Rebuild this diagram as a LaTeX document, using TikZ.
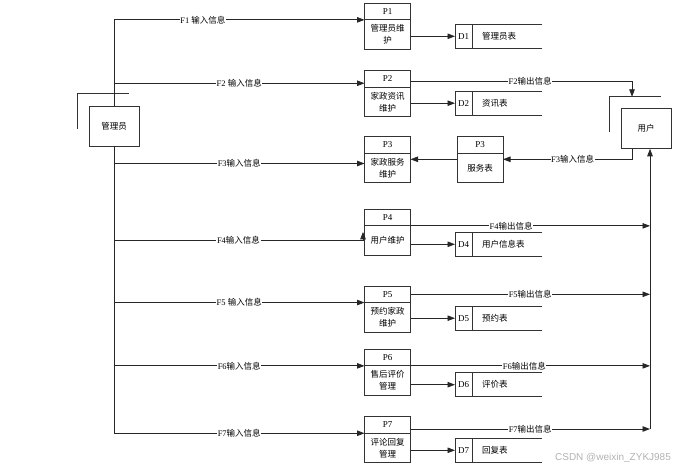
\documentclass[tikz,border=0pt]{standalone}
\usepackage{fontspec}
\setmainfont{Liberation Serif}
\newfontfamily\cjkfont{Noto Sans CJK SC}
\newfontfamily\wmfont{Liberation Sans}
\newcommand{\zh}[1]{{\cjkfont #1}}
\usetikzlibrary{arrows.meta, positioning}

\begin{document}
\begin{tikzpicture}[x=1pt,y=-1pt,
  line/.style={draw=black!85,line width=0.8pt},
  arr/.style={line,-{Triangle[length=7.5pt,width=5.5pt]}},
  lab/.style={fill=white,inner sep=0.6pt,font=\fontsize{8.5}{10}\selectfont},
  ent/.style={rectangle,draw=black!80,line width=0.95pt,minimum width=50,minimum height=40,font=\fontsize{8.5}{10}\selectfont},
  ptop/.style={rectangle,draw=black!80,line width=0.95pt,minimum width=46,minimum height=16.5,inner sep=0,outer sep=0,font=\fontsize{9}{10}\selectfont},
  pbot/.style={rectangle,draw=black!80,line width=0.95pt,minimum width=46,minimum height=29.5,inner sep=0,outer sep=0,align=center,font=\fontsize{8.5}{12}\selectfont,below=0pt of #1},
  dst/.style={rectangle,draw=black!80,line width=0.95pt,minimum width=17,minimum height=24,inner sep=0,outer sep=0,font=\fontsize{9}{10}\selectfont},
  dname/.style={right=10pt of #1,inner sep=0,font=\fontsize{8.5}{10}\selectfont},
  dline/.style={draw=black!80,line width=0.95pt}
]
  \useasboundingbox (0,0) rectangle (692,473);

  % external entities
  \node[ent] (mgr) at (114,126) {\zh{管理员}};
  \node[ent] (usr) at (646,128.3) {\zh{用户}};
  \draw[dline] ([shift={(-11,3)}]mgr.west) |- ([shift={(-10,-12)}]mgr.north east);
  \draw[dline] ([shift={(-11,3.4)}]usr.west) |- ([shift={(-10,-11)}]usr.north east);

  % processes
  \node[ptop] (p1h) at (387.5,11.6) {P1};
  \node[pbot=p1h] (p1b) {\zh{管理员维}\\\zh{护}};
  \node[ptop] (p2h) at (387.5,79) {P2};
  \node[pbot=p2h] (p2b) {\zh{家政资讯}\\\zh{维护}};
  \node[ptop] (p3h) at (387.5,145) {P3};
  \node[pbot=p3h] (p3b) {\zh{家政服务}\\\zh{维护}};
  \node[ptop] (svch) at (480,145) {P3};
  \node[pbot=svch] (svcb) {\zh{服务表}};
  \node[ptop] (p4h) at (387.5,217.6) {P4};
  \node[pbot=p4h] (p4b) {\zh{用户维护}};
  \node[ptop] (p5h) at (387.5,294.3) {P5};
  \node[pbot=p5h] (p5b) {\zh{预约家政}\\\zh{维护}};
  \node[ptop] (p6h) at (387.5,357.6) {P6};
  \node[pbot=p6h] (p6b) {\zh{售后评价}\\\zh{管理}};
  \node[ptop] (p7h) at (387.5,425) {P7};
  \node[pbot=p7h] (p7b) {\zh{评论回复}\\\zh{管理}};

  % data stores
  \node[dst] (d1) at (463.5,36.3) {D1};
  \node[dname=d1] (d1n) {\zh{管理员表}};
  \node[dst] (d2) at (463.5,103.2) {D2};
  \node[dname=d2] (d2n) {\zh{资讯表}};
  \node[dst] (d4) at (463.5,244.3) {D4};
  \node[dname=d4] (d4n) {\zh{用户信息表}};
  \node[dst] (d5) at (463.5,318.2) {D5};
  \node[dname=d5] (d5n) {\zh{预约表}};
  \node[dst] (d6) at (463.5,384.7) {D6};
  \node[dname=d6] (d6n) {\zh{评价表}};
  \node[dst] (d7) at (463.5,450.3) {D7};
  \node[dname=d7] (d7n) {\zh{回复表}};
  \foreach \d in {d1,d2,d4,d5,d6,d7}
    \draw[dline] (\d.north east) -- ++(70,0) (\d.south east) -- ++(70,0);

  % connection points
  \coordinate (p2in) at ([yshift=4pt]p2h.south west);
  \coordinate (p3in) at ([yshift=4.5pt]p3b.west);
  \coordinate (p4in) at ([shift={(-1.5,6)}]p4b.north west);
  \coordinate (p3r) at ([yshift=8.7pt]p3b.east);
  \coordinate (svcl) at ([yshift=8.7pt]svcb.west);
  \coordinate (svcr) at ([yshift=8.7pt]svcb.east);
  \coordinate (p2o) at ([yshift=-2pt]p2h.east);
  \coordinate (p7o) at ([yshift=-4pt]p7h.east);
  \coordinate (usrin) at ([shift={(-14,-11)}]usr.north);
  \coordinate (usrout) at ([xshift=-14pt]usr.south);
  \coordinate (bus) at ([xshift=4pt]usr.south);

  % manager inputs
  \draw[line] (mgr.north) -- (mgr.north |- p1h.south west);
  \draw[line] (mgr.south) -- (mgr.south |- p7h.south west);
  \draw[arr] (mgr.north |- p1h.south west) -- node[lab,pos=0.355]{F1 \zh{输入信息}} (p1h.south west);
  \draw[arr] (mgr.north |- p2in) -- node[lab]{F2 \zh{输入信息}} (p2in);
  \draw[arr] (mgr.south |- p3in) -- node[lab]{F3\zh{输入信息}} (p3in);
  \draw[arr] (mgr.south |- p4b.west) -| node[lab,pos=0.25]{F4\zh{输入信息}} (p4in);
  \draw[arr] (mgr.south |- p5h.south west) -- node[lab]{F5 \zh{输入信息}} (p5h.south west);
  \draw[arr] (mgr.south |- p6h.south west) -- node[lab]{F6\zh{输入信息}} (p6h.south west);
  \draw[arr] (mgr.south |- p7h.south west) -- node[lab]{F7\zh{输入信息}} (p7h.south west);

  % processes to stores
  \draw[arr] (p1b.east |- d1.west) -- (d1.west);
  \draw[arr] (p2b.east |- d2.west) -- (d2.west);
  \draw[arr] (p4b.east |- d4.west) -- (d4.west);
  \draw[arr] (p5b.east |- d5.west) -- (d5.west);
  \draw[arr] (p6b.east |- d6.west) -- (d6.west);
  \draw[arr] (p7b.east |- d7.west) -- (d7.west);

  % user side
  \draw[arr] (p2o) -| node[lab,pos=0.27]{F2\zh{输出信息}} (usrin);
  \draw[arr] (usrout) |- node[lab,pos=0.73]{F3\zh{输入信息}} (svcr);
  \draw[arr] (svcl) -- (p3r);

  \draw[arr] (p7o -| bus) -- (bus);
  \draw[arr] (p4h.south east) -- node[lab,pos=0.42]{F4\zh{输出信息}} (p4h.south east -| bus);
  \draw[arr] (p5h.east) -- node[lab]{F5\zh{输出信息}} (p5h.east -| bus);
  \draw[arr] (p6h.south east) -- node[lab,pos=0.475]{F6\zh{输出信息}} (p6h.south east -| bus);
  \draw[arr] (p7o) -- node[lab]{F7\zh{输出信息}} (p7o -| bus);

  \node[text=black!30,font=\wmfont\fontsize{10}{12}\selectfont] (wm) at (613,458) {CSDN @weixin\_ZYKJ985};
\end{tikzpicture}
\end{document}
